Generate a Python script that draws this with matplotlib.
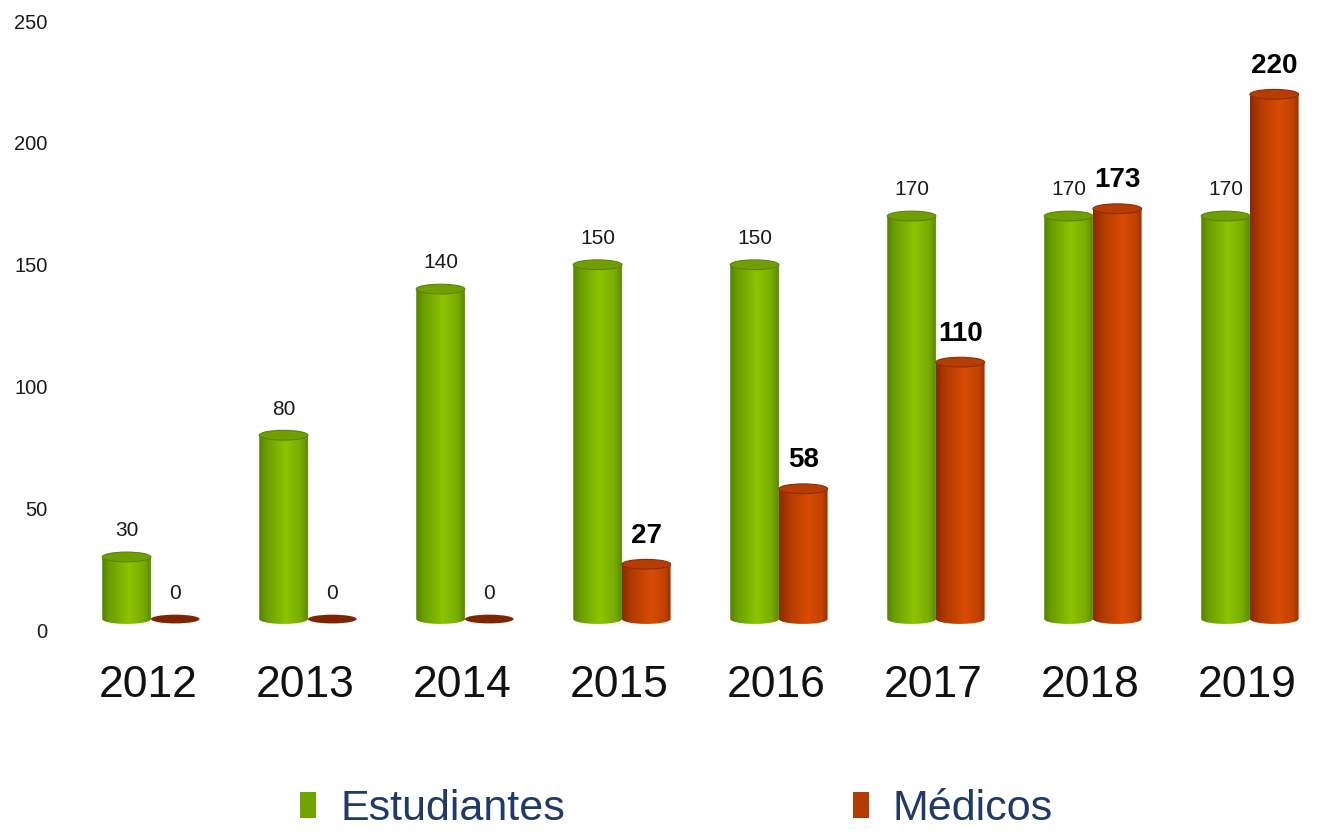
import numpy as np
import matplotlib
matplotlib.use("Agg")
from matplotlib import pyplot as plt
from matplotlib.colors import LinearSegmentedColormap
from matplotlib.patches import Ellipse, Polygon, Patch

plt.rcParams['font.family'] = ['Liberation Sans', 'DejaVu Sans']

years = ["2012", "2013", "2014", "2015", "2016", "2017", "2018", "2019"]
estudiantes = [30, 80, 140, 150, 150, 170, 170, 170]
medicos = [0, 0, 0, 27, 58, 110, 173, 220]
series_names = ["Estudiantes", "Médicos"]

green_cmap = LinearSegmentedColormap.from_list(
    "green_cyl", [(0.0, "#558000"), (0.15, "#6a9e00"), (0.55, "#8bc400"),
                  (0.85, "#78ad00"), (1.0, "#5a8a00")])
red_cmap = LinearSegmentedColormap.from_list(
    "red_cyl", [(0.0, "#8a2a00"), (0.2, "#b23b00"), (0.6, "#d84c06"),
                (0.88, "#c04200"), (1.0, "#983000")])

BASE = 4.5      # bottom of the cylinders (pseudo 3d floor)
ELL_H = 4.0     # ellipse height in data units
W = 0.31


def cylinder(ax, xc, value, cmap, top_face, top_edge, zero_color):
    x0, x1 = xc - W / 2, xc + W / 2
    if value <= 0:
        ax.add_patch(Ellipse((xc, BASE), W, ELL_H * 0.9, facecolor=zero_color,
                             edgecolor="none", zorder=3))
        return BASE
    t = np.linspace(np.pi, 2 * np.pi, 40)
    bottom = np.column_stack([xc + W / 2 * np.cos(t), BASE + ELL_H / 2 * np.sin(t)])
    pts = np.vstack([[x0, value], bottom, [x1, value]])
    clip = Polygon(pts, closed=True, transform=ax.transData)
    grad = np.linspace(0, 1, 256).reshape(1, -1)
    im = ax.imshow(grad, extent=[x0, x1, BASE - ELL_H, value], cmap=cmap,
                   aspect="auto", interpolation="bilinear", zorder=2)
    im.set_clip_path(clip)
    ax.add_patch(Ellipse((xc, value), W, ELL_H, facecolor=top_face,
                         edgecolor=top_edge, linewidth=0.8, zorder=3))
    return value


fig = plt.figure(figsize=(13.27, 8.36), dpi=100)
ax = fig.add_axes([0.0528, 0.2464, 0.9465, 0.7282])

x = np.arange(len(years))
for i in x:
    top = cylinder(ax, i - 0.14, estudiantes[i], green_cmap, "#6f9f05", "#5a8500", "#5a8500")
    ax.annotate(str(estudiantes[i]), (i - 0.14, top + ELL_H / 2), xytext=(0, 8.5),
                textcoords="offset points", ha="center", va="bottom",
                fontsize=15, color="#1a1a1a")
    top = cylinder(ax, i + 0.17, medicos[i], red_cmap, "#b63e02", "#8f2c00", "#7d2400")
    if medicos[i] > 0:
        ax.annotate(str(medicos[i]), (i + 0.17, top + ELL_H / 2), xytext=(0, 7.5),
                    textcoords="offset points", ha="center", va="bottom",
                    fontsize=20, fontweight="bold", color="black")
    else:
        ax.annotate("0", (i + 0.17, top + ELL_H / 2), xytext=(0, 8),
                    textcoords="offset points", ha="center", va="bottom",
                    fontsize=15, color="#1a1a1a")

ax.set_xlim(-0.5, 7.5)
ax.set_ylim(0, 250)
ax.set_yticks([0, 50, 100, 150, 200, 250])
ax.tick_params(axis="y", length=0, pad=16, labelsize=14.5, labelcolor="#1a1a1a")
ax.set_xticks(x)
ax.set_xticklabels(years)
ax.tick_params(axis="x", length=0, pad=25, labelsize=32, labelcolor="#111111")
for s in ax.spines.values():
    s.set_visible(False)

handles = [Patch(facecolor="#6fa300", edgecolor="none"),
           Patch(facecolor="#b03a00", edgecolor="none")]
fig.legend(handles, series_names, loc="center", bbox_to_anchor=(0.51, 0.032),
           ncol=2, frameon=False, fontsize=31, labelcolor="#1f3a68",
           handlelength=0.37, handleheight=0.55, handletextpad=0.55,
           columnspacing=6.7)

fig.savefig("out.png", dpi=100)
